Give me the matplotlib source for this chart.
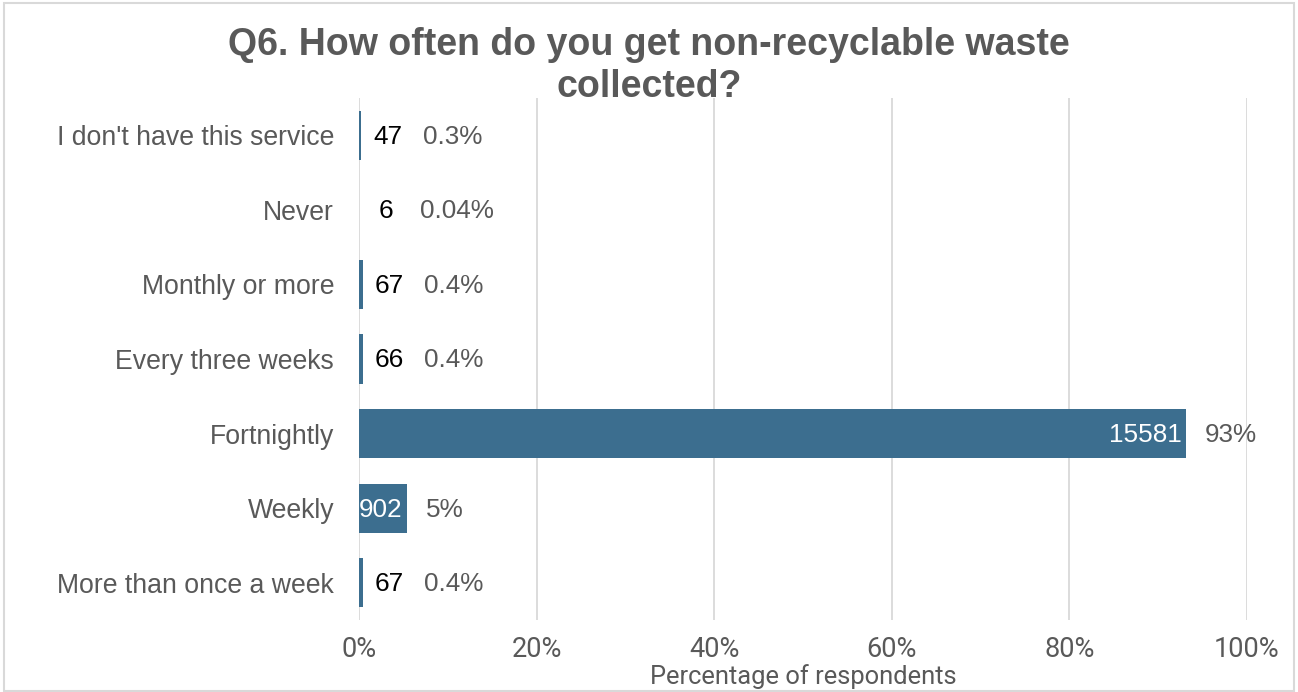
import matplotlib
matplotlib.use("Agg")
import matplotlib.pyplot as plt
from matplotlib.patches import Rectangle
from matplotlib.transforms import offset_copy

# data
categories = ["I don't have this service", "Never", "Monthly or more",
              "Every three weeks", "Fortnightly", "Weekly", "More than once a week"]
counts = [47, 6, 67, 66, 15581, 902, 67]
pct_labels = ["0.3%", "0.04%", "0.4%", "0.4%", "93%", "5%", "0.4%"]

total = sum(counts)
shares = [c / total for c in counts]

BAR = "#3C6E8F"
GREY = "#595959"
LABEL_FONT = ["Liberation Sans", "DejaVu Sans"]
AXIS_FONT = ["Roboto", "DejaVu Sans"]

fig = plt.figure(figsize=(12.98, 6.92), dpi=100)
ax = fig.add_axes([359 / 1298, 1 - 620 / 692, 888 / 1298, 522 / 692])

y = list(range(len(categories)))
ax.barh(y, shares, height=0.66, color=BAR, zorder=3)

ax.set_xlim(0, 1)
ax.set_ylim(len(categories) - 0.5, -0.5)
ax.set_xticks([0, 0.2, 0.4, 0.6, 0.8, 1.0])
ax.set_xticklabels(["0%", "20%", "40%", "60%", "80%", "100%"],
                   fontsize=19.5, color=GREY, family=AXIS_FONT)
ax.set_yticks(y)
ax.set_yticklabels(categories, fontsize=19.2, color=GREY, family=LABEL_FONT)
ax.tick_params(axis="both", length=0)
ax.tick_params(axis="y", pad=18)
ax.tick_params(axis="x", pad=11.5)
ax.grid(axis="x", color="#D9D9D9", linewidth=1.3, zorder=0)
for s in ax.spines.values():
    s.set_visible(False)

ax.set_xlabel("Percentage of respondents", fontsize=18.4, color=GREY, family=AXIS_FONT)
ax.xaxis.set_label_coords(0.5, -0.108)
ax.xaxis.label.set_va("center")

# data labels: count and percentage
for yi, v, c, p in zip(y, shares, counts, pct_labels):
    px_w = v * 888
    if px_w > 30:
        tr = offset_copy(ax.transData, fig=fig, x=-3, y=-1, units="points")
        ax.text(v, yi, str(c), transform=tr, ha="right", va="center",
                fontsize=18.8, color="white", family=LABEL_FONT, zorder=4)
        tr2 = offset_copy(ax.transData, fig=fig, x=14, y=-1, units="points")
    else:
        tr = offset_copy(ax.transData, fig=fig, x=19, y=-1, units="points")
        ax.text(v, yi, str(c), transform=tr, ha="center", va="center",
                fontsize=18.8, color="black", family=LABEL_FONT, zorder=4)
        tr2 = offset_copy(ax.transData, fig=fig, x=44, y=-1, units="points")
    ax.text(v, yi, p, transform=tr2, ha="left", va="center",
            fontsize=18.8, color=GREY, family=LABEL_FONT, zorder=4)

fig.text(0.5, 1 - 27 / 692, "Q6. How often do you get non-recyclable waste\ncollected?",
         ha="center", va="top", fontsize=27, fontweight="bold", color=GREY,
         family=LABEL_FONT, linespacing=1.2)

fig.patches.append(Rectangle((0.003, 0.001), 0.994, 0.995, transform=fig.transFigure,
                             fill=False, edgecolor="#D9D9D9", linewidth=1.5))

fig.savefig("out.png", dpi=100)
